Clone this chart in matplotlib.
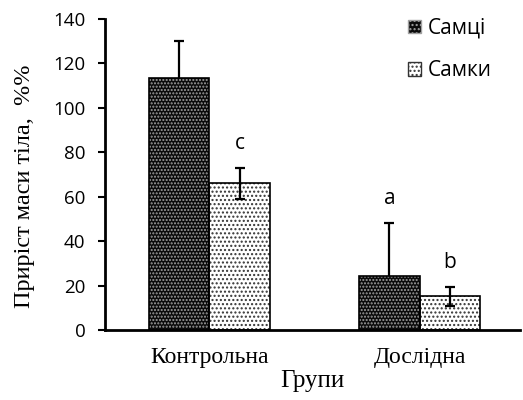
import matplotlib.pyplot as plt
import matplotlib.patches as mpatches
import numpy as np

# Body weight gain by group and sex
groups = ['Контрольна', 'Дослідна']
series = ['Самці', 'Самки']
males = [113.5, 24.5]
males_err = [16.5, 23.5]
females = [66.0, 15.2]
females_err = [7.0, 4.2]
letters_males = ['', 'a']
letters_females = ['c', 'b']

sans = ['Open Sans', 'DejaVu Sans']
serif = ['Liberation Serif', 'DejaVu Serif']
plt.rcParams['hatch.linewidth'] = 1.0

fig = plt.figure(figsize=(5.23, 4.0), dpi=100)
ax = fig.add_axes([0.2008, 0.175, 0.793, 0.7775])

x = np.arange(len(groups))
w = 0.288
male_face, male_dots = '#0a0a0a', '#a0a0a0'
female_face, female_dots = 'white', '#333333'

# error bars of males sit behind the dark bars, those of females on top
ax.errorbar(x - w / 2, males, yerr=males_err, fmt='none', ecolor='black', elinewidth=1.6,
            capsize=3.5, capthick=1.6, zorder=1)
ax.errorbar(x + w / 2, females, yerr=females_err, fmt='none', ecolor='black', elinewidth=1.6,
            capsize=3.5, capthick=1.6, zorder=4)

# hatched fills first, outlines drawn on top
ax.bar(x - w / 2, males, w, color=male_face, edgecolor=male_dots, hatch='.....', linewidth=0, zorder=2)
ax.bar(x - w / 2, males, w, fill=False, edgecolor='black', linewidth=1.2, zorder=3)
ax.bar(x + w / 2, females, w, color=female_face, edgecolor=female_dots, hatch='....', linewidth=0, zorder=2)
ax.bar(x + w / 2, females, w, fill=False, edgecolor='black', linewidth=1.2, zorder=3)

for i in range(len(groups)):
    if letters_males[i]:
        ax.text(x[i] - w / 2, males[i] + males_err[i] + 11, letters_males[i], ha='center',
                va='center', fontsize=15, family=sans)
    if letters_females[i]:
        ax.text(x[i] + w / 2, females[i] + females_err[i] + 11, letters_females[i], ha='center',
                va='center', fontsize=15, family=sans)

ax.set_ylim(0, 140)
ax.set_yticks(np.arange(0, 141, 20))
ax.set_xlim(-0.495, 1.475)
ax.set_xticks(x)
ax.set_xticklabels(groups, family=serif, fontsize=17)
for t in ax.get_yticklabels():
    t.set_family(sans)
    t.set_fontsize(13.5)
ax.tick_params(axis='x', length=0, pad=12)
ax.tick_params(axis='y', length=5, width=1.5, direction='out', pad=9)

for s in ['top', 'right']:
    ax.spines[s].set_visible(False)
for s in ['left', 'bottom']:
    ax.spines[s].set_linewidth(2)

ax.set_ylabel('Приріст маси тіла,  %%', family=serif, fontsize=17.5)
ax.yaxis.set_label_coords(-0.168, 0.463)
ax.set_xlabel('Групи', family=serif, fontsize=18, labelpad=2)

h1 = mpatches.Patch(facecolor=male_face, edgecolor=male_dots, hatch='....')
h2 = mpatches.Patch(facecolor=female_face, edgecolor=female_dots, hatch='....')
leg = ax.legend([h1, h2], series, loc='upper left', bbox_to_anchor=(0.686, 1.065), frameon=False,
                prop={'family': sans, 'size': 15}, handlelength=0.6, handleheight=0.6,
                handletextpad=0.35, labelspacing=1.05)

fig.savefig('out.png', dpi=100)
